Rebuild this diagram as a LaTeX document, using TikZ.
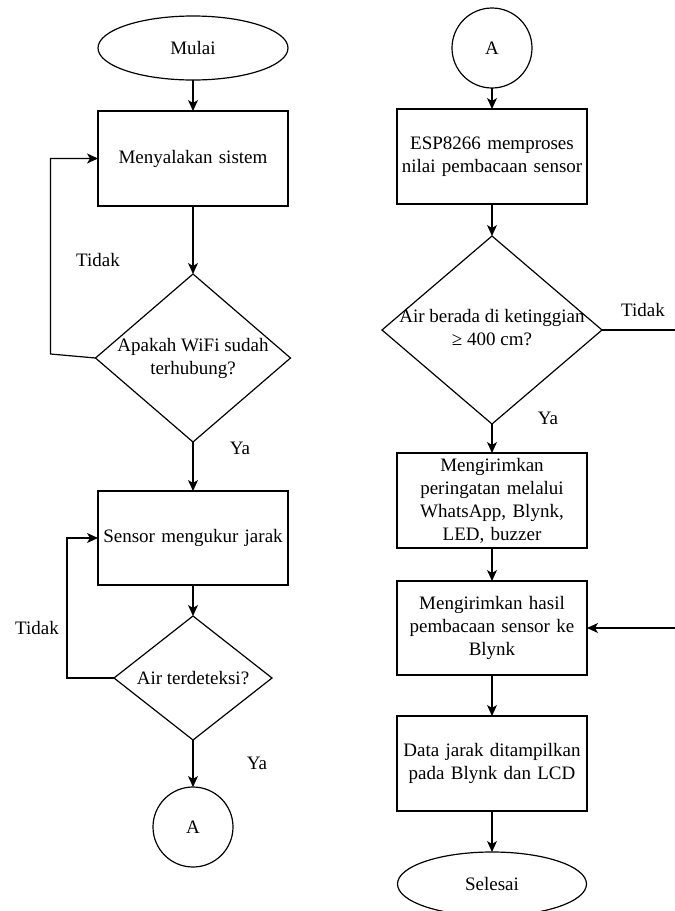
\documentclass[tikz,border=0pt]{standalone}
\usepackage{fontspec}
\setmainfont{Liberation Serif}
\usepackage{tikz}
\usetikzlibrary{shapes.geometric,arrows.meta,positioning}

\begin{document}
\begin{tikzpicture}[
    x=1pt, y=-1pt,
    font=\fontsize{19}{23}\selectfont,
    block/.style={rectangle, draw, line width=1.2pt, outer sep=0pt, minimum width=190pt, minimum height=95pt, text width=182pt, align=center, inner sep=2pt},
    terminal/.style={ellipse, draw, line width=1.2pt, outer sep=0pt, minimum width=190pt, minimum height=64pt},
    connector/.style={circle, draw, line width=1.2pt, outer sep=0pt, minimum size=80pt, inner sep=0pt},
    decision/.style={diamond, draw, line width=1.2pt, outer sep=0pt, inner sep=0pt},
    dtext/.style={align=center, inner sep=0pt},
    line/.style={draw, line width=1.2pt, -{Stealth[length=11pt, width=10pt, inset=3pt]}}
]
\useasboundingbox (0,0) rectangle (675,911);

% Nodes (left column)
\node [terminal] (mulai) at (193,48) {Mulai};
\node [block, below=31pt of mulai] (menyala) {Menyalakan sistem};
\node [decision, below=68pt of menyala, minimum width=195pt, minimum height=168pt,
       label={[dtext]center:Apakah WiFi sudah\\terhubung?}] (wifi) {};
\node [block, below=49pt of wifi, minimum height=94pt] (sensor) {Sensor mengukur jarak};
\node [decision, below=31pt of sensor, minimum width=158pt, minimum height=124pt,
       label={[dtext]center:Air terdeteksi?}] (airdet) {};
\node [connector, below=47pt of airdet] (conA) {A};

% Nodes (right column)
\node [connector] (conB) at (492,48) {A};
\node [block, below=21pt of conB] (esp) {ESP8266 memproses\\nilai pembacaan sensor};
\node [decision, below=32pt of esp, minimum width=220pt, minimum height=188pt,
       label={[dtext, yshift=2pt]center:Air berada di ketinggian\\≥ 400 cm?}] (cek) {};
\node [block, below=29pt of cek] (warn) {Mengirimkan\\peringatan melalui\\WhatsApp, Blynk,\\LED, buzzer};
\node [block, below=33pt of warn, minimum height=94pt] (kirim) {Mengirimkan hasil\\pembacaan sensor ke\\Blynk};
\node [block, below=41pt of kirim] (tampil) {Data jarak ditampilkan\\pada Blynk dan LCD};
\node [terminal, below=41pt of tampil, minimum width=189pt] (selesai) {Selesai};

% Labels
\node (tidak1) at (98,260) {Tidak};
\node (ya1) at (240,448) {Ya};
\node (tidak2) at (37,628) {Tidak};
\node (ya2) at (257,763) {Ya};
\node (tidak3) at (643,310) {Tidak};
\node (ya3) at (548,418) {Ya};

% right edge of the page
\coordinate (rand) at (675,0);

% Connectors
\path [line] (mulai) -- (menyala);
\path [line] (menyala) -- (wifi);
\path [line] (wifi) -- (sensor);
\path [line] (wifi.west) -- ++(-45pt,4pt) |- (menyala.west);
\path [line] (sensor) -- (airdet);
\path [line] (airdet.west) -- ++(-47pt,0) |- (sensor.west);
\path [line] (airdet) -- (conA);

\path [line] (conB) -- (esp);
\path [line] (esp) -- (cek);
\path [line] (cek) -- (warn);
\draw [line width=1.2pt] (cek.east) -- (cek.east -| rand);
\path [line] (warn) -- (kirim);
\path [line] (kirim.east -| rand) -- (kirim.east);
\path [line] (kirim) -- (tampil);
\path [line] (tampil) -- (selesai);

\end{tikzpicture}
\end{document}
